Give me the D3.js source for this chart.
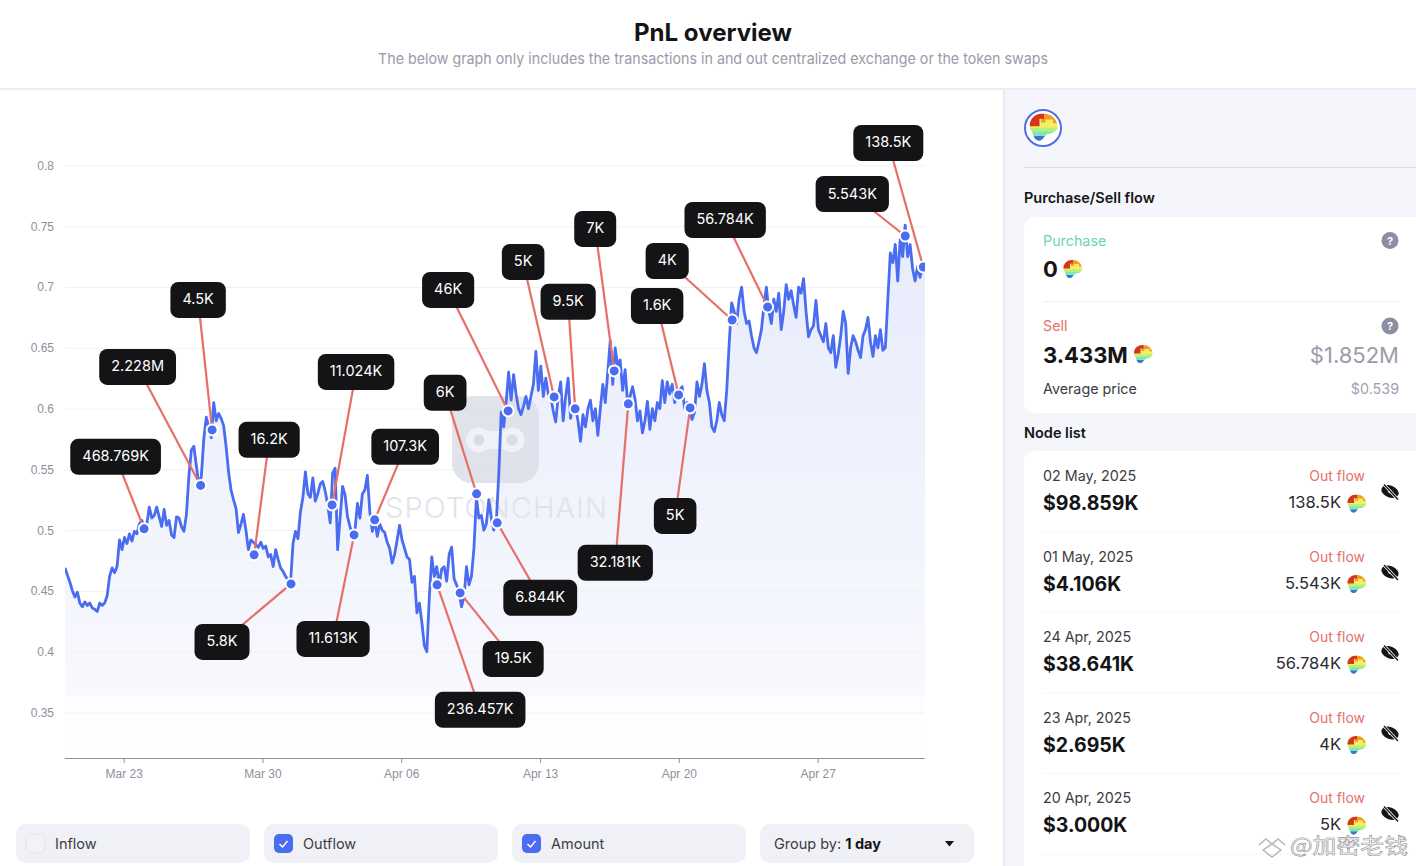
<!DOCTYPE html>
<html>
<head>
<meta charset="utf-8">
<title>PnL overview</title>
<script src="https://cdn.jsdelivr.net/npm/d3@7"></script>
<style>
  html,body{margin:0;padding:0;background:#fff;overflow:hidden}
  svg{display:block;font-family:Inter,"Noto Sans",sans-serif}
</style>
</head>
<body>
<div id="page"></div>
<script>
// price every 3 hours from 20 Mar 2025, one row per day
const prices = [
  .469,.463,.457,.450,.445,.449,.440,.437,
  .441,.438,.440,.436,.435,.433,.440,.438,
  .440,.446,.462,.469,.465,.470,.492,.484,
  .494,.489,.497,.491,.499,.497,.505,.508,
  .503,.505,.519,.510,.512,.519,.511,.503,
  .517,.504,.508,.496,.494,.511,.510,.503,
  .499,.513,.545,.566,.569,.553,.537,.544,
  .575,.593,.585,.576,.605,.590,.596,.592,
  .586,.569,.548,.533,.525,.518,.498,.505,
  .513,.500,.484,.492,.490,.488,.486,.490,
  .485,.487,.478,.480,.470,.484,.476,.469,
  .466,.462,.459,.457,.489,.499,.493,.515,
  .527,.548,.530,.527,.543,.524,.530,.538,
  .540,.532,.521,.506,.547,.551,.484,.510,
  .536,.529,.511,.503,.496,.500,.522,.510,
  .530,.533,.545,.515,.499,.508,.495,.505,
  .500,.498,.490,.485,.473,.480,.492,.504,
  .492,.485,.478,.476,.457,.462,.432,.440,
  .424,.405,.400,.445,.478,.462,.470,.455,
  .468,.470,.458,.480,.486,.460,.455,.449,
  .437,.445,.470,.455,.462,.485,.527,.510,
  .512,.500,.505,.525,.510,.500,.506,.545,
  .597,.585,.605,.630,.607,.628,.612,.600,
  .595,.602,.610,.600,.610,.620,.647,.615,
  .635,.610,.625,.612,.610,.598,.589,.610,
  .622,.590,.610,.625,.592,.602,.600,.590,
  .573,.595,.585,.600,.607,.590,.600,.578,
  .600,.620,.605,.630,.656,.620,.650,.635,
  .640,.615,.632,.605,.610,.618,.608,.590,
  .598,.580,.590,.606,.583,.600,.590,.605,
  .600,.623,.605,.622,.612,.620,.605,.611,
  .615,.618,.600,.605,.600,.591,.597,.622,
  .610,.620,.637,.615,.605,.585,.581,.590,
  .605,.595,.590,.615,.654,.687,.680,.670,
  .690,.700,.680,.670,.672,.660,.650,.646,
  .655,.665,.684,.700,.680,.670,.690,.680,
  .695,.665,.680,.702,.690,.697,.685,.675,
  .700,.695,.707,.680,.659,.665,.668,.689,
  .665,.660,.655,.670,.650,.646,.660,.634,
  .645,.660,.680,.670,.629,.650,.660,.655,
  .648,.642,.660,.665,.675,.655,.643,.660,
  .650,.665,.648,.650,.690,.728,.720,.735,
  .705,.740,.725,.751,.725,.735,.715,.705,
  .717,.708,.717,.714
];
const startDate = new Date(Date.UTC(2025,2,20));
const endDate = new Date(Date.UTC(2025,2,20,9.4)+43*864e5);
const priceTicks = [.35,.4,.45,.5,.55,.6,.65,.7,.75,.8];
const dateTicks = [[2,23],[2,30],[3,6],[3,13],[3,20],[3,27]].map(d=>new Date(Date.UTC(2025,d[0],d[1])));

// node callouts: label, days after start, price at the node
const nodeLabels = ['468.769K','2.228M','4.5K','16.2K','5.8K','11.024K','11.613K','107.3K','236.457K','19.5K','6K','6.844K','46K','5K','9.5K','7K','32.181K','1.6K','5K','4K','56.784K','5.543K','138.5K'];
const nodeDays = [3.99,6.84,7.42,9.54,11.40,13.47,14.58,15.62,18.77,19.93,20.76,21.80,22.35,24.67,25.73,27.70,28.41,30.95,31.53,33.65,35.44,42.38,43.29];
const nodePrices = [.5011,.5368,.5825,.4797,.4558,.5208,.4961,.5085,.4550,.4484,.5299,.5060,.5981,.6096,.5998,.6310,.6039,.6113,.6006,.6729,.6836,.7420,.7165];
// where each label box sits relative to its node (pixels)
const boxOffsets = [[-28.5,-72],[-63,-118.5],[-14,-130],[15,-115],[-69,58],[24,-133],[-21,104],[30.5,-73],[43,125],[53,66],[-31.5,-101],[43,75],[-60,-121],[-31,-135],[-7,-107],[-19,-142],[-13,159],[-21.5,-89],[-15,108],[-65,-59],[-42.5,-87],[-53,-42],[-35,-124]];

// right panel lists
const listDates = ['02 May, 2025','01 May, 2025','24 Apr, 2025','23 Apr, 2025','20 Apr, 2025'];
const listUsd = ['$98.859K','$4.106K','$38.641K','$2.695K','$3.000K'];
const listAmounts = ['138.5K','5.543K','56.784K','4K','5K'];
const controlLabels = ['Inflow','Outflow','Amount'];
const controlChecked = [false,true,true];

const W=1416,H=866;
const blue='#4a6cf0',red='#e66f68',ink='#141416',grey='#9a9aa8';
const svg=d3.select('#page').append('svg').attr('width',W).attr('height',H);
const defs=svg.append('defs');

function txt(g,x,y,s,size,fill,opt={}){
  return g.append('text').attr('x',x).attr('y',y).text(s)
    .attr('font-size',size).attr('fill',fill)
    .attr('font-weight',opt.weight||400)
    .attr('text-anchor',opt.anchor||'start');
}

// token icon, used many times
const brain='M1.5 9C1.5 4 5.5 1 10.5 1C15.5 1 19.5 4.5 20 9C20.5 12.5 17 14 13.5 14.5C11.5 15 11 18 8.5 19C5.5 19.5 3.5 16.5 3.5 13.5C2.5 12.5 1.5 11 1.5 9Z';
defs.append('clipPath').attr('id','brainClip').append('path').attr('d',brain);
const tok=defs.append('g').attr('id','token').append('g').attr('clip-path','url(#brainClip)');
tok.append('rect').attr('width',21).attr('height',20).attr('fill','#f3ee62');
tok.append('path').attr('d','M0 10.5H21V20H0Z').attr('fill','#b6f07e');
tok.append('path').attr('d','M0 13H21V20H0Z').attr('fill','#7fe8b0');
tok.append('path').attr('d','M4.5 16H11.5V20H4.5Z').attr('fill','#3f6fe0');
tok.append('path').attr('d','M9 0H21V7.5H17V5H12V7H9Z').attr('fill','#f59a2a');
tok.append('path').attr('d','M0 0H11V4.5H8V9.5H0Z').attr('fill','#d4351e');
function token(g,cx,cy,size){
  const k=size/20;
  g.append('use').attr('href','#token').attr('transform',`translate(${cx-size/2},${cy-size/2}) scale(${k})`);
}
function help(g,cx,cy){
  g.append('circle').attr('cx',cx).attr('cy',cy).attr('r',8.5).attr('fill','#8d8da3');
  txt(g,cx,cy+4,'?',11,'#fff',{anchor:'middle',weight:700});
}
function eyeOff(g,cx,cy){
  const e=g.append('g').attr('transform',`translate(${cx},${cy}) rotate(22)`);
  e.append('ellipse').attr('rx',9).attr('ry',6).attr('fill','#151518');
  e.append('circle').attr('r',1.8).attr('fill','#fff');
  g.append('line').attr('x1',cx-6).attr('y1',cy-7).attr('x2',cx+7).attr('y2',cy+7).attr('stroke','#fff').attr('stroke-width',2.8);
  g.append('line').attr('x1',cx-6).attr('y1',cy-7).attr('x2',cx+8).attr('y2',cy+8).attr('stroke','#151518').attr('stroke-width',1.3);
}

// header
txt(svg,713,41,'PnL overview',24,ink,{anchor:'middle',weight:700}).attr('textLength',158).attr('lengthAdjust','spacingAndGlyphs');
txt(svg,713,64,'The below graph only includes the transactions in and out centralized exchange or the token swaps',15,grey,{anchor:'middle'}).attr('textLength',670).attr('lengthAdjust','spacingAndGlyphs');
svg.append('rect').attr('x',0).attr('y',88).attr('width',W).attr('height',2).attr('fill','#ececf1');

// chart
const x=d3.scaleUtc().domain([startDate,endDate]).range([65,925]);
const y=d3.scaleLinear().domain([.35,.8]).range([712.5,165.5]);
const axisY=758;
const timeAt=i=>new Date(+startDate+i*3*36e5);
const dayAt=d=>new Date(+startDate+d*864e5);

const grad=defs.append('linearGradient').attr('id','areaFill').attr('gradientUnits','userSpaceOnUse')
  .attr('x1',0).attr('x2',0).attr('y1',y(.75)).attr('y2',axisY);
grad.append('stop').attr('offset',0).attr('stop-color','#e7ebfb');
grad.append('stop').attr('offset',.88).attr('stop-color','#f8f9fe');
grad.append('stop').attr('offset',.885).attr('stop-color','#fdfdff');
grad.append('stop').attr('offset',1).attr('stop-color','#fff');
defs.append('clipPath').attr('id','plotClip').append('rect').attr('x',65).attr('y',100).attr('width',860).attr('height',660);

const area=d3.area().x((d,i)=>x(timeAt(i))).y0(axisY).y1(d=>y(d));
const line=d3.line().x((d,i)=>x(timeAt(i))).y(d=>y(d));
svg.append('g').attr('clip-path','url(#plotClip)').append('path').attr('d',area(prices)).attr('fill','url(#areaFill)');

const gy=svg.append('g').attr('transform','translate(65,0)')
  .call(d3.axisLeft(y).tickValues(priceTicks).tickSize(-860).tickFormat(d=>String(+d.toFixed(2))));
gy.select('.domain').remove();
gy.selectAll('.tick line').attr('stroke','#f1f1f5');
gy.selectAll('.tick text').attr('x',-11).attr('fill','#8f8f9d').attr('font-size',12).attr('font-family','inherit');

// watermark
const wm=svg.append('g');
wm.append('rect').attr('x',452).attr('y',396).attr('width',87).attr('height',87).attr('rx',20).attr('fill','#dcdee8').attr('opacity',.85);
wm.append('rect').attr('x',466).attr('y',431).attr('width',58).attr('height',18).attr('rx',9).attr('fill','#f1f2f7');
wm.append('circle').attr('cx',479).attr('cy',440).attr('r',12.5).attr('fill','#f1f2f7');
wm.append('circle').attr('cx',512).attr('cy',440).attr('r',12.5).attr('fill','#f1f2f7');
wm.append('circle').attr('cx',479).attr('cy',440).attr('r',5.5).attr('fill','#d9dbe6');
wm.append('circle').attr('cx',512).attr('cy',440).attr('r',5.5).attr('fill','#d9dbe6');
txt(wm,385,518,'SPOTONCHAIN',29,'#e1e3eb',{weight:300}).attr('textLength',222).attr('lengthAdjust','spacing');

const plot=svg.append('g').attr('clip-path','url(#plotClip)');
plot.selectAll('.price').data([prices]).join('path').attr('class','price')
  .attr('d',line).attr('fill','none').attr('stroke',blue).attr('stroke-width',2.8).attr('stroke-linejoin','round');

const gx=svg.append('g').attr('transform',`translate(-0.8,${axisY})`)
  .call(d3.axisBottom(x).tickValues(dateTicks).tickSize(5).tickPadding(6).tickFormat(d3.utcFormat('%b %d')).tickSizeOuter(0));
gx.select('.domain').attr('stroke','#8e8e9e').attr('stroke-width',1.2);
gx.selectAll('.tick line').attr('stroke','#8e8e9e');
gx.selectAll('.tick text').attr('fill','#8f8f9d').attr('font-size',12).attr('font-family','inherit');

// callouts
const nodes=nodeLabels.map((label,i)=>({label,px:x(dayAt(nodeDays[i])),py:y(nodePrices[i]),dx:boxOffsets[i][0],dy:boxOffsets[i][1]}));
const links=plot.append('g');
nodes.forEach(n=>links.append('line').attr('x1',n.px).attr('y1',n.py).attr('x2',n.px+n.dx).attr('y2',n.py+n.dy).attr('stroke',red).attr('stroke-width',2.2));
const dots=plot.append('g');
dots.selectAll('circle').data(nodes).join('circle').attr('cx',d=>d.px).attr('cy',d=>d.py).attr('r',5.5)
  .attr('fill',blue).attr('stroke','#fff').attr('stroke-width',2);
const boxes=svg.append('g');
nodes.forEach(n=>{
  const t=txt(boxes,n.px+n.dx,n.py+n.dy+4.5,n.label,14.5,'#fff',{anchor:'middle'});
  const w=t.node().getComputedTextLength()+24;
  boxes.insert('rect','text').attr('x',n.px+n.dx-w/2).attr('y',n.py+n.dy-18).attr('width',w).attr('height',36).attr('rx',8).attr('fill',ink);
});
boxes.selectAll('text').raise();

// controls
const ctl=svg.append('g');
[16,264,512].forEach((cx,i)=>{
  ctl.append('rect').attr('x',cx).attr('y',824).attr('width',234).attr('height',39).attr('rx',10).attr('fill','#f0f1f7');
  const on=controlChecked[i];
  ctl.append('rect').attr('x',cx+10).attr('y',834).attr('width',19).attr('height',19).attr('rx',5)
    .attr('fill',on?blue:'#f2f3f8').attr('stroke',on?'none':'#e4e5ec');
  if(on) ctl.append('path').attr('d',`M${cx+15.5} 844l3 3l5-6`).attr('fill','none').attr('stroke','#fff').attr('stroke-width',1.5);
  txt(ctl,cx+39,848.5,controlLabels[i],14.5,'#3c3c44');
});
ctl.append('rect').attr('x',760).attr('y',824).attr('width',214).attr('height',39).attr('rx',10).attr('fill','#f0f1f7');
const gb=txt(ctl,774,848.5,'Group by: ',14.5,'#3c3c44');
gb.append('tspan').attr('font-weight',700).attr('fill',ink).text('1 day');
ctl.append('path').attr('d','M945 841h9l-4.5 5.5Z').attr('fill',ink);

// right panel
const side=svg.append('g');
side.append('rect').attr('x',1004).attr('y',90).attr('width',412).attr('height',776).attr('fill','#f5f6fb');
side.append('rect').attr('x',1003).attr('y',90).attr('width',1.5).attr('height',776).attr('fill','#e8e8ee');
side.append('circle').attr('cx',1043).attr('cy',128).attr('r',18).attr('fill','#fff').attr('stroke','#4f6ee0').attr('stroke-width',2);
token(side,1042.5,127,30);
side.append('rect').attr('x',1024).attr('y',167).attr('width',392).attr('height',1).attr('fill','#dcdde4');
txt(side,1024,202.5,'Purchase/Sell flow',14.5,ink,{weight:600});
side.append('rect').attr('x',1024).attr('y',217).attr('width',410).attr('height',196).attr('rx',10).attr('fill','#fff');
txt(side,1043,245.5,'Purchase',14.3,'#6fd3b8');
help(side,1390,240.5);
txt(side,1043,277,'0',22,ink,{weight:700});
token(side,1072,269,20);
side.append('line').attr('x1',1043).attr('x2',1400).attr('y1',301.5).attr('y2',301.5).attr('stroke','#f0f0f4');
txt(side,1043,331,'Sell',14.3,red);
help(side,1390,326);
txt(side,1043,363,'3.433M',22,ink,{weight:700});
token(side,1142.5,354,20);
txt(side,1399,363,'$1.852M',22,'#9c9caa',{anchor:'end'});
txt(side,1043,394,'Average price',14.3,'#3c3c44');
txt(side,1399,394,'$0.539',14.3,'#a0a0ae',{anchor:'end'});

txt(side,1024,438,'Node list',14.5,ink,{weight:600});
side.append('rect').attr('x',1024).attr('y',451).attr('width',410).attr('height',430).attr('rx',10).attr('fill','#fff');
const rowTop=d3.scaleLinear().domain([0,1]).range([0,80.5]);
listDates.forEach((d,i)=>{
  const r=rowTop(i);
  txt(side,1043,481+r,d,14.3,'#3c3c44');
  txt(side,1043,510+r,listUsd[i],19.5,ink,{weight:700});
  txt(side,1365,481+r,'Out flow',14,red,{anchor:'end'});
  txt(side,1341,508+r,listAmounts[i],16.5,'#2a2a30',{anchor:'end'});
  token(side,1356,503.5+r,20);
  eyeOff(side,1390,491.5+r);
  side.append('line').attr('x1',1043).attr('x2',1400).attr('y1',532+r).attr('y2',532+r).attr('stroke','#eeeef2').attr('stroke-dasharray','2 2');
});

// reposted-image mark, bottom right
const mark=svg.append('g');
mark.append('path').attr('d','M1259 845l7-6l6 5l6-5l7 6M1263 850l9 7l9-7l-9-6Z').attr('fill','none').attr('stroke','#b5b5bb').attr('stroke-width',1.5);
txt(mark,1290,853,'@加密老钱',21,'#fff').attr('font-family','"Noto Sans CJK SC"').attr('stroke','#8f8f95').attr('stroke-width',.6)
  .attr('textLength',118).attr('lengthAdjust','spacingAndGlyphs');
</script>
</body>
</html>
